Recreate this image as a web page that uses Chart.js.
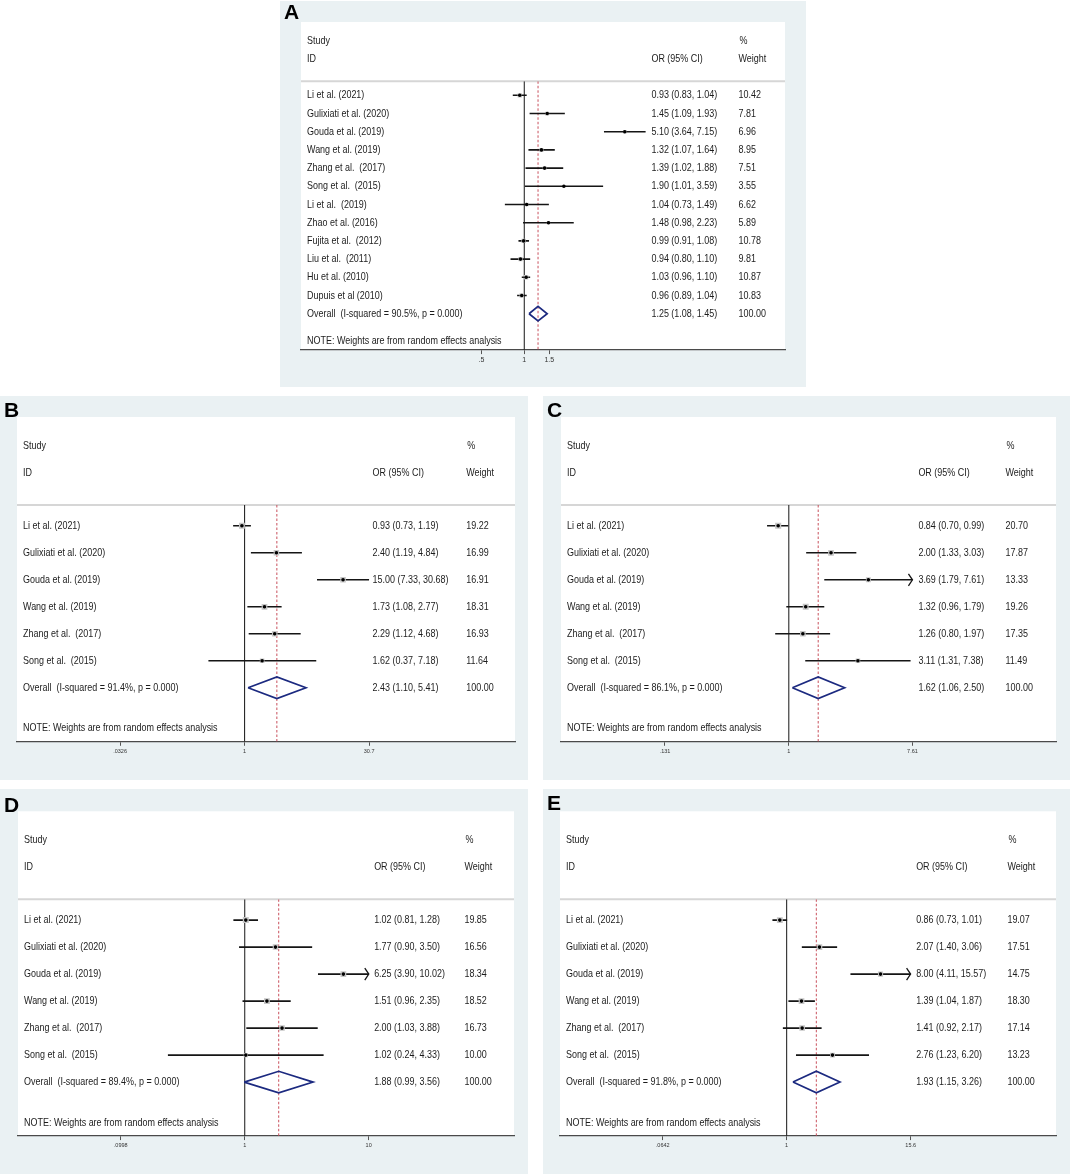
<!DOCTYPE html>
<html>
<head>
<meta charset="utf-8">
<title>Forest plots</title>
<script src="https://cdn.jsdelivr.net/npm/chart.js@4.4.1/dist/chart.umd.min.js"></script>
<style>
  html, body { margin: 0; padding: 0; background: #fff; overflow: hidden; }
  body { width: 1072px; height: 1176px; position: relative; }
  .panel { position: absolute; background: #eaf1f3; }
</style>
</head>
<body>
<div class="panel" id="pA"><canvas id="cA"></canvas></div>
<div class="panel" id="pB"><canvas id="cB"></canvas></div>
<div class="panel" id="pC"><canvas id="cC"></canvas></div>
<div class="panel" id="pD"><canvas id="cD"></canvas></div>
<div class="panel" id="pE"><canvas id="cE"></canvas></div>
<script>
// ---- Panel A ----
const studiesA = ['Li et al. (2021)', 'Gulixiati et al. (2020)', 'Gouda et al. (2019)', 'Wang et al. (2019)',
    'Zhang et al.  (2017)', 'Song et al.  (2015)', 'Li et al.  (2019)', 'Zhao et al. (2016)',
    'Fujita et al.  (2012)', 'Liu et al.  (2011)', 'Hu et al. (2010)', 'Dupuis et al (2010)'];
const orA = [0.93, 1.45, 5.10, 1.32, 1.39, 1.90, 1.04, 1.48, 0.99, 0.94, 1.03, 0.96];
const loA = [0.83, 1.09, 3.64, 1.07, 1.02, 1.01, 0.73, 0.98, 0.91, 0.80, 0.96, 0.89];
const hiA = [1.04, 1.93, 7.15, 1.64, 1.88, 3.59, 1.49, 2.23, 1.08, 1.10, 1.10, 1.04];
const wA = [10.42, 7.81, 6.96, 8.95, 7.51, 3.55, 6.62, 5.89, 10.78, 9.81, 10.87, 10.83];
const overallA = [1.25, 1.08, 1.45];
const hetA = 'Overall  (I-squared = 90.5%, p = 0.000)';
const ticksA = [0.5, 1, 1.5];
const tickLabelsA = ['.5', '1', '1.5'];

// ---- Panels B-E (same six studies) ----
const studiesBE = ['Li et al. (2021)', 'Gulixiati et al. (2020)', 'Gouda et al. (2019)',
    'Wang et al. (2019)', 'Zhang et al.  (2017)', 'Song et al.  (2015)'];

const orB = [0.93, 2.40, 15.00, 1.73, 2.29, 1.62];
const loB = [0.73, 1.19, 7.33, 1.08, 1.12, 0.37];
const hiB = [1.19, 4.84, 30.68, 2.77, 4.68, 7.18];
const wB = [19.22, 16.99, 16.91, 18.31, 16.93, 11.64];
const overallB = [2.43, 1.10, 5.41];
const hetB = 'Overall  (I-squared = 91.4%, p = 0.000)';
const ticksB = [0.0326, 1, 30.7];
const tickLabelsB = ['.0326', '1', '30.7'];
const arrowsB = [];

const orC = [0.84, 2.00, 3.69, 1.32, 1.26, 3.11];
const loC = [0.70, 1.33, 1.79, 0.96, 0.80, 1.31];
const hiC = [0.99, 3.03, 7.61, 1.79, 1.97, 7.38];
const wC = [20.70, 17.87, 13.33, 19.26, 17.35, 11.49];
const overallC = [1.62, 1.06, 2.50];
const hetC = 'Overall  (I-squared = 86.1%, p = 0.000)';
const ticksC = [0.131, 1, 7.61];
const tickLabelsC = ['.131', '1', '7.61'];
const arrowsC = [2];

const orD = [1.02, 1.77, 6.25, 1.51, 2.00, 1.02];
const loD = [0.81, 0.90, 3.90, 0.96, 1.03, 0.24];
const hiD = [1.28, 3.50, 10.02, 2.35, 3.88, 4.33];
const wD = [19.85, 16.56, 18.34, 18.52, 16.73, 10.00];
const overallD = [1.88, 0.99, 3.56];
const hetD = 'Overall  (I-squared = 89.4%, p = 0.000)';
const ticksD = [0.0998, 1, 10];
const tickLabelsD = ['.0998', '1', '10'];
const arrowsD = [2];

const orE = [0.86, 2.07, 8.00, 1.39, 1.41, 2.76];
const loE = [0.73, 1.40, 4.11, 1.04, 0.92, 1.23];
const hiE = [1.01, 3.06, 15.57, 1.87, 2.17, 6.20];
const wE = [19.07, 17.51, 14.75, 18.30, 17.14, 13.23];
const overallE = [1.93, 1.15, 3.26];
const hetE = 'Overall  (I-squared = 91.8%, p = 0.000)';
const ticksE = [0.0642, 1, 15.6];
const tickLabelsE = ['.0642', '1', '15.6'];
const arrowsE = [2];

const nota = 'NOTE: Weights are from random effects analysis';

// posiciones de cada panel en la pagina (caja gris, zona blanca, separador, alto de fila)
const paneles = [
    { letra: 'A', box: [280, 1, 526, 386], white: [301, 785], sepY: 81.3, rowH: 18.2, letraY: 18, frac: [0.373, 0.513], tickSize: 7,
      cols: [0.724, 0.904],
      studies: studiesA, or: orA, lo: loA, hi: hiA, w: wA, overall: overallA, het: hetA, ticks: ticksA, tickLabels: tickLabelsA, arrows: [] },
    { letra: 'B', box: [0, 396, 528, 384], white: [17, 515], sepY: 505, rowH: 27, letraY: 21, frac: [0.207, 0.707], tickSize: 5.5,
      cols: [0.714, 0.902],
      studies: studiesBE, or: orB, lo: loB, hi: hiB, w: wB, overall: overallB, het: hetB, ticks: ticksB, tickLabels: tickLabelsB, arrows: arrowsB },
    { letra: 'C', box: [543, 396, 527, 384], white: [561, 1056], sepY: 505, rowH: 27, letraY: 21, frac: [0.21, 0.71], tickSize: 5.5,
      cols: [0.722, 0.898],
      studies: studiesBE, or: orC, lo: loC, hi: hiC, w: wC, overall: overallC, het: hetC, ticks: ticksC, tickLabels: tickLabelsC, arrows: arrowsC },
    { letra: 'D', box: [0, 789, 528, 385], white: [18, 514], sepY: 899.3, rowH: 27, letraY: 23, frac: [0.207, 0.707], tickSize: 5.5,
      cols: [0.718, 0.900],
      studies: studiesBE, or: orD, lo: loD, hi: hiD, w: wD, overall: overallD, het: hetD, ticks: ticksD, tickLabels: tickLabelsD, arrows: arrowsD },
    { letra: 'E', box: [543, 789, 527, 385], white: [560, 1056], sepY: 899.3, rowH: 27, letraY: 21, frac: [0.207, 0.707], tickSize: 5.5,
      cols: [0.718, 0.902],
      studies: studiesBE, or: orE, lo: loE, hi: hiE, w: wE, overall: overallE, het: hetE, ticks: ticksE, tickLabels: tickLabelsE, arrows: arrowsE }
];

const AXIS_H = 24;
const TOP_ROW = -0.77;

function texto(ctx, str, x, y, size) {
    ctx.save();
    ctx.font = size + 'px "Liberation Sans", Arial, sans-serif';
    ctx.fillStyle = '#1c1c1c';
    ctx.textBaseline = 'middle';
    ctx.textAlign = 'left';
    ctx.translate(x, y);
    ctx.scale(0.78, 1);
    ctx.fillText(str, 0, 0);
    ctx.restore();
}

function fmt(v) { return v.toFixed(2); }

paneles.forEach(function(p) {
    const n = p.studies.length;
    const [bx, by, bw, bh] = p.box;
    const div = document.getElementById('p' + p.letra);
    div.style.left = bx + 'px';
    div.style.top = by + 'px';
    div.style.width = bw + 'px';
    div.style.height = bh + 'px';

    const axisY = p.sepY + (n + 2 - TOP_ROW) * p.rowH;
    const pad = {
        left: p.white[0] - bx,
        right: bx + bw - p.white[1],
        top: p.sepY - by,
        bottom: by + bh - axisY - AXIS_H
    };

    // rango del eje log: primer y ultimo tick caen en las fracciones dadas del ancho
    const L = Math.log(p.ticks[0]);
    const H = Math.log(p.ticks[p.ticks.length - 1]);
    const span = (H - L) / (p.frac[1] - p.frac[0]);
    const xmin = Math.exp(L - p.frac[0] * span);
    const xmax = Math.exp(H + (1 - p.frac[1]) * span);

    const datasets = [];
    // linea de no efecto y linea del estimador global
    datasets.push({ data: [{ x: 1, y: TOP_ROW }, { x: 1, y: n + 2 }], showLine: true, borderColor: '#2a2a2a',
        borderWidth: 1.1, pointRadius: 0, order: 6 });
    datasets.push({ data: [{ x: p.overall[0], y: TOP_ROW }, { x: p.overall[0], y: n + 2 }], showLine: true,
        borderColor: '#c9505c', borderWidth: 1, borderDash: [2.5, 2], pointRadius: 0, order: 5 });
    // intervalos de confianza
    p.lo.forEach(function(lo, i) {
        datasets.push({ data: [{ x: lo, y: i }, { x: p.hi[i], y: i }], showLine: true, borderColor: '#151515',
            borderWidth: 1.6, pointRadius: 0, order: 4 });
    });
    // cajas de peso
    datasets.push({ data: p.or.map((v, i) => ({ x: v, y: i })), pointStyle: 'rect',
        pointRadius: p.w.map(w => 0.95 * Math.sqrt(w)), backgroundColor: '#c6c6c6', borderWidth: 0, order: 3 });
    // punto estimado
    datasets.push({ data: p.or.map((v, i) => ({ x: v, y: i })), pointStyle: 'circle', pointRadius: 1.8,
        backgroundColor: '#000', borderWidth: 0, order: 2 });
    // diamante global
    const [est, olo, ohi] = p.overall;
    datasets.push({ data: [{ x: olo, y: n }, { x: est, y: n - 0.4 }, { x: ohi, y: n }, { x: est, y: n + 0.4 }, { x: olo, y: n }],
        showLine: true, borderColor: '#1c2a80', borderWidth: 1.7, pointRadius: 0, tension: 0, order: 1 });

    const dibujo = {
        id: 'forest' + p.letra,
        beforeDraw(chart) {
            const ctx = chart.ctx, a = chart.chartArea, y = chart.scales.y;
            ctx.save();
            const top = y.getPixelForValue(-4.03);
            ctx.fillStyle = '#fff';
            ctx.fillRect(a.left, top, a.right - a.left, a.bottom - top);
            ctx.strokeStyle = '#d6d6d6';
            ctx.lineWidth = 2;
            ctx.beginPath();
            ctx.moveTo(a.left, a.top);
            ctx.lineTo(a.right, a.top);
            ctx.stroke();
            ctx.restore();
        },
        afterDraw(chart) {
            const ctx = chart.ctx, a = chart.chartArea, x = chart.scales.x, y = chart.scales.y;
            const w = a.right - a.left;
            const cName = a.left + 6, cOR = a.left + p.cols[0] * w, cW = a.left + p.cols[1] * w;
            const fs = 11.5;
            texto(ctx, 'Study', cName, y.getPixelForValue(-2.97), fs);
            texto(ctx, '%', cW + 1, y.getPixelForValue(-2.97), fs);
            texto(ctx, 'ID', cName, y.getPixelForValue(-1.98), fs);
            texto(ctx, 'OR (95% CI)', cOR, y.getPixelForValue(-1.98), fs);
            texto(ctx, 'Weight', cW, y.getPixelForValue(-1.98), fs);
            p.studies.forEach(function(s, i) {
                const yy = y.getPixelForValue(i);
                texto(ctx, s, cName, yy, fs);
                texto(ctx, fmt(p.or[i]) + ' (' + fmt(p.lo[i]) + ', ' + fmt(p.hi[i]) + ')', cOR, yy, fs);
                texto(ctx, fmt(p.w[i]), cW, yy, fs);
            });
            const yo = y.getPixelForValue(n);
            texto(ctx, p.het, cName, yo, fs);
            texto(ctx, fmt(est) + ' (' + fmt(olo) + ', ' + fmt(ohi) + ')', cOR, yo, fs);
            texto(ctx, '100.00', cW, yo, fs);
            texto(ctx, nota, cName, y.getPixelForValue(n + 1.5), fs);

            // flechas de IC recortados
            ctx.save();
            ctx.strokeStyle = '#151515';
            ctx.lineWidth = 1.3;
            p.arrows.forEach(function(i) {
                const px = x.getPixelForValue(p.hi[i]), py = y.getPixelForValue(i);
                ctx.beginPath();
                ctx.moveTo(px - 4, py - 6);
                ctx.lineTo(px, py);
                ctx.lineTo(px - 4, py + 6);
                ctx.stroke();
            });
            // letra del panel
            ctx.fillStyle = '#000';
            ctx.font = 'bold 21px "Liberation Sans", Arial, sans-serif';
            ctx.textBaseline = 'alphabetic';
            ctx.fillText(p.letra, 4, p.letraY);
            ctx.restore();
        }
    };

    new Chart(document.getElementById('c' + p.letra), {
        type: 'scatter',
        data: { datasets: datasets },
        options: {
            responsive: true,
            maintainAspectRatio: false,
            animation: false,
            layout: { padding: pad },
            plugins: { legend: { display: false }, tooltip: { enabled: false } },
            scales: {
                x: {
                    type: 'logarithmic',
                    min: xmin,
                    max: xmax,
                    afterBuildTicks: axis => { axis.ticks = p.ticks.map(v => ({ value: v })); },
                    afterFit: axis => { axis.height = AXIS_H; },
                    ticks: {
                        autoSkip: false, maxRotation: 0, padding: 2, color: '#333',
                        font: { size: p.tickSize, family: '"Liberation Sans", Arial, sans-serif' },
                        callback: (v, i) => p.tickLabels[i]
                    },
                    grid: { drawOnChartArea: false, drawTicks: true, tickLength: 4, color: '#555', tickColor: '#555' },
                    border: { display: true, color: '#4a4a4a', width: 1.3 }
                },
                y: {
                    type: 'linear',
                    reverse: true,
                    min: TOP_ROW,
                    max: n + 2,
                    display: false
                }
            }
        },
        plugins: [dibujo]
    });
});
</script>
</body>
</html>
